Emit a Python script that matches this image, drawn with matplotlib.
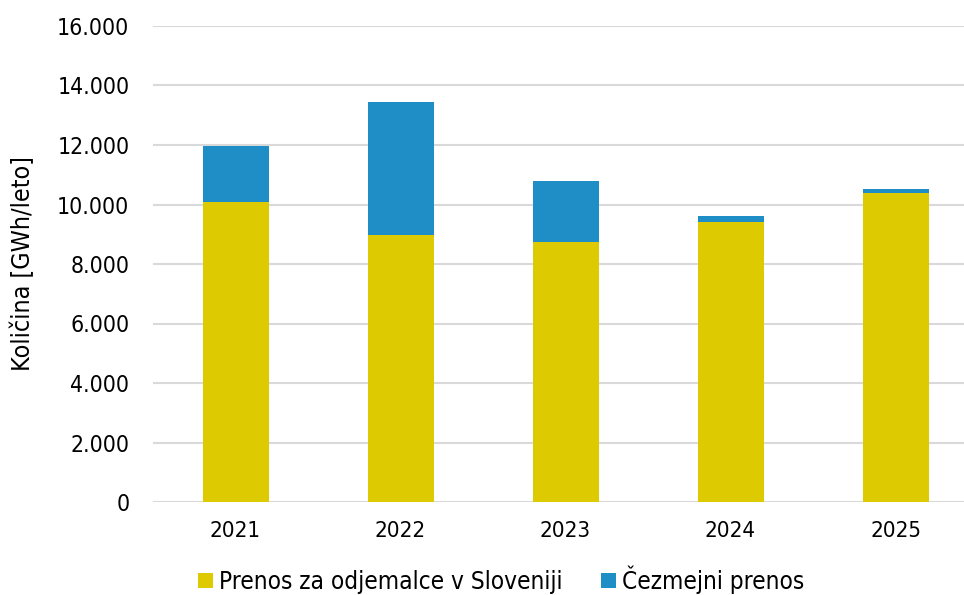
import numpy as np
import matplotlib
matplotlib.use('Agg')
import matplotlib.pyplot as plt
from matplotlib.ticker import FuncFormatter

years = ['2021', '2022', '2023', '2024', '2025']
domestic = [10100, 8970, 8750, 9420, 10400]      # Prenos za odjemalce v Sloveniji
cross_border = [1850, 4480, 2040, 200, 110]       # Čezmejni prenos
y_ticks = [0, 2000, 4000, 6000, 8000, 10000, 12000, 14000, 16000]

plt.rcParams['font.family'] = ['DejaVu Sans']
plt.rcParams['font.stretch'] = 'condensed'

fig = plt.figure(figsize=(9.64, 5.95), dpi=100)
ax = fig.add_axes([153/964, 93/595, 825/964, 476/595])

x = np.arange(len(years))
ax.bar(x, domestic, width=0.4, color='#ddca00', label='Prenos za odjemalce v Sloveniji', zorder=3)
ax.bar(x, cross_border, width=0.4, bottom=domestic, color='#1f8ec6', label='Čezmejni prenos', zorder=3)

ax.set_xlim(-0.5, len(years) - 0.5)
ax.set_ylim(0, 16000)
ax.set_yticks(y_ticks)
ax.yaxis.set_major_formatter(FuncFormatter(lambda v, p: f'{int(v):,}'.replace(',', '.')))
ax.set_xticks(x, years)
ax.grid(axis='y', color='#d9d9d9', linewidth=1.5, zorder=0)
for s in ax.spines.values():
    s.set_visible(False)
ax.tick_params(length=0, colors='#000000')
ax.tick_params(axis='y', labelsize=16.5, pad=17)
ax.tick_params(axis='x', labelsize=16, pad=14)
ax.set_ylabel('Količina [GWh/leto]', fontsize=18)
ax.yaxis.set_label_coords(-118/825, 0.5)

fig.legend(loc='center', bbox_to_anchor=(501/964, 1 - 580/595), ncol=2, frameon=False,
           fontsize=17.5, handlelength=0.6, handleheight=0.6, handletextpad=0.25, columnspacing=1.6,
           borderpad=0.2)

plt.savefig('out.png', dpi=100)
